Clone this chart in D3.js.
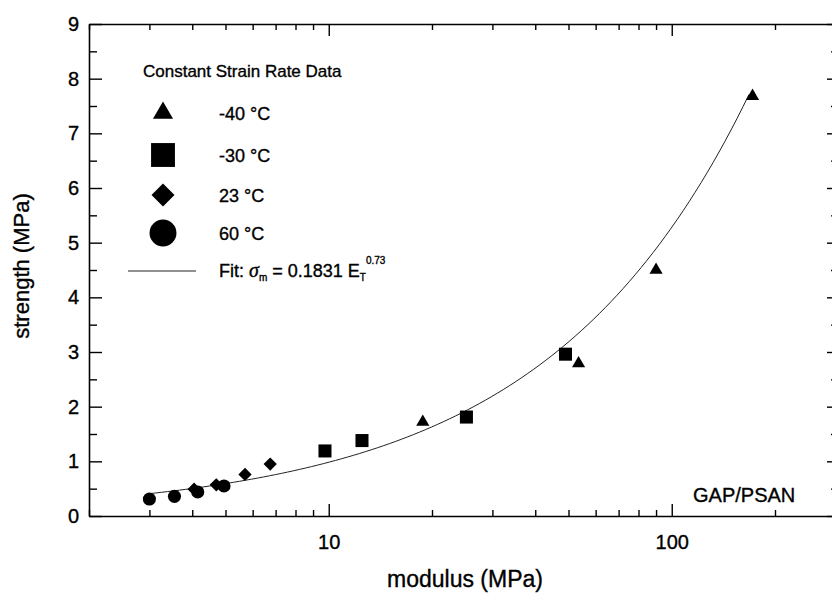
<!DOCTYPE html>
<html>
<head>
<meta charset="utf-8">
<script src="https://cdn.jsdelivr.net/npm/d3@7"></script>
<style>
body { margin: 0; background: #fff; }
svg { font-family: "Liberation Sans", Arial, Helvetica, sans-serif; }
svg text { fill: #000; stroke: #000; stroke-width: 0.35px; }
.axis path { stroke: #000; stroke-width: 1.6; }
.axis line { stroke: #000; stroke-width: 1.4; }
.axis text { font-size: 20px; font-family: "Liberation Sans", Arial, sans-serif; }
</style>
</head>
<body>
<svg id="chart" width="832" height="593"></svg>
<script>
// modulus (MPa), strength (MPa)
var minus40 = [[18.8, 1.72], [53.5, 2.79], [90, 4.5], [172, 7.68]];
var minus30 = [[9.75, 1.19], [12.5, 1.38], [25.2, 1.81], [49, 2.96]];
var plus23  = [[4.05, 0.49], [4.7, 0.57], [5.7, 0.76], [6.75, 0.95]];
var plus60  = [[3.0, 0.31], [3.55, 0.36], [4.15, 0.44], [4.95, 0.55]];

// fit: sigma_m = 0.1831 * E^0.73
var fitA = 0.1831, fitB = 0.73;
var fitRange = [3, 168];

var xDomain = [2, 300];
var xMajor = [10, 100];
var yTicks = [0, 1, 2, 3, 4, 5, 6, 7, 8, 9];
var yMinor = [0.5, 1.5, 2.5, 3.5, 4.5, 5.5, 6.5, 7.5, 8.5];

var legendItems = ["-40 °C", "-30 °C", "23 °C", "60 °C"];

var svg = d3.select("#chart");

var plotLeft = 89, plotTop = 24, plotBottom = 516, decade = 343;
var rightX = 836;

var x = d3.scaleLog()
    .domain(xDomain)
    .range([plotLeft, plotLeft + Math.log10(xDomain[1] / xDomain[0]) * decade]);

var y = d3.scaleLinear()
    .domain([0, 9])
    .range([plotBottom, plotTop]);

var xMinor = x.ticks().filter(function(d) { return xMajor.indexOf(d) < 0; });

// bottom axis
svg.append("g")
    .attr("class", "axis")
    .attr("transform", "translate(0," + plotBottom + ")")
    .call(d3.axisBottom(x).tickValues(xMajor).tickSizeInner(-12).tickSizeOuter(0)
        .tickPadding(19).tickFormat(d3.format("d")));
svg.append("g")
    .attr("class", "axis")
    .attr("transform", "translate(0," + plotBottom + ")")
    .call(d3.axisBottom(x).tickValues(xMinor).tickSize(-6).tickFormat(""))
    .select(".domain").remove();

// top axis
svg.append("g")
    .attr("class", "axis")
    .attr("transform", "translate(0," + plotTop + ")")
    .call(d3.axisTop(x).tickValues(xMajor).tickSizeInner(-12).tickSizeOuter(0).tickFormat(""));
svg.append("g")
    .attr("class", "axis")
    .attr("transform", "translate(0," + plotTop + ")")
    .call(d3.axisTop(x).tickValues(xMinor).tickSize(-6).tickFormat(""))
    .select(".domain").remove();

// left axis
svg.append("g")
    .attr("class", "axis")
    .attr("transform", "translate(" + plotLeft + ",0)")
    .call(d3.axisLeft(y).tickValues(yTicks).tickSizeInner(-13).tickSizeOuter(0).tickPadding(10));
svg.append("g")
    .attr("class", "axis")
    .attr("transform", "translate(" + plotLeft + ",0)")
    .call(d3.axisLeft(y).tickValues(yMinor).tickSize(-8).tickFormat(""))
    .select(".domain").remove();

// right axis (frame runs just past the cropped edge)
svg.append("g")
    .attr("class", "axis")
    .attr("transform", "translate(" + rightX + ",0)")
    .call(d3.axisRight(y).tickValues(yTicks).tickSizeInner(-9).tickSizeOuter(0).tickFormat(""));
svg.append("g")
    .attr("class", "axis")
    .attr("transform", "translate(" + rightX + ",0)")
    .call(d3.axisRight(y).tickValues(yMinor).tickSize(-5).tickFormat(""))
    .select(".domain").remove();

// axis titles
svg.append("text")
    .attr("x", 465)
    .attr("y", 587)
    .attr("text-anchor", "middle")
    .style("font-size", "23px")
    .text("modulus (MPa)");

svg.append("text")
    .attr("transform", "translate(29,266) rotate(-90)")
    .attr("text-anchor", "middle")
    .style("font-size", "22px")
    .text("strength (MPa)");

// fit curve
var fitE = d3.range(0, 101).map(function(i) {
    return fitRange[0] * Math.pow(fitRange[1] / fitRange[0], i / 100);
});
var fitLine = d3.line()
    .x(function(d) { return x(d); })
    .y(function(d) { return y(fitA * Math.pow(d, fitB)); });

svg.append("path")
    .datum(fitE)
    .attr("d", fitLine)
    .attr("fill", "none")
    .attr("stroke", "#222")
    .attr("stroke-width", 1);

// markers
var shapes = [
    {data: minus40, type: d3.symbolTriangle, size: 75, rot: 0, legSize: 175},
    {data: minus30, type: d3.symbolSquare, size: 170, rot: 0, legSize: 570},
    {data: plus23, type: d3.symbolSquare, size: 88, rot: 45, legSize: 265},
    {data: plus60, type: d3.symbolCircle, size: 135, rot: 0, legSize: 570}
];

shapes.forEach(function(s) {
    svg.selectAll(null)
        .data(s.data)
        .enter()
        .append("path")
        .attr("d", d3.symbol().type(s.type).size(s.size))
        .attr("transform", function(d) {
            return "translate(" + x(d[0]) + "," + y(d[1]) + ") rotate(" + s.rot + ")";
        })
        .attr("fill", "#000");
});

// legend
svg.append("text")
    .attr("x", 143)
    .attr("y", 77)
    .style("font-size", "17px")
    .text("Constant Strain Rate Data");

var legY = [113, 155, 195, 233];

shapes.forEach(function(s, i) {
    svg.append("path")
        .attr("d", d3.symbol().type(s.type).size(s.legSize))
        .attr("transform", "translate(163," + legY[i] + ") rotate(" + s.rot + ")")
        .attr("fill", "#000");
    svg.append("text")
        .attr("x", 219)
        .attr("y", legY[i] + 7)
        .style("font-size", "18px")
        .text(legendItems[i]);
});

svg.append("line")
    .attr("x1", 128).attr("x2", 196)
    .attr("y1", 271).attr("y2", 271)
    .attr("stroke", "#222")
    .attr("stroke-width", 1);

var fitText = svg.append("text")
    .attr("x", 219)
    .attr("y", 277)
    .style("font-size", "18px");
fitText.append("tspan").text("Fit: ");
fitText.append("tspan")
    .style("font-family", "'Liberation Serif', serif")
    .style("font-style", "italic")
    .style("font-size", "20px")
    .text("σ");
fitText.append("tspan").attr("dy", 4).style("font-size", "10px").text("m");
fitText.append("tspan").attr("dy", -4).text(" = 0.1831 E");
fitText.append("tspan").attr("dy", 4).style("font-size", "10px").text("T");
fitText.append("tspan").attr("dy", -17).style("font-size", "10px").text("0.73");

svg.append("text")
    .attr("x", 693)
    .attr("y", 502)
    .style("font-size", "20px")
    .text("GAP/PSAN");
</script>
</body>
</html>
